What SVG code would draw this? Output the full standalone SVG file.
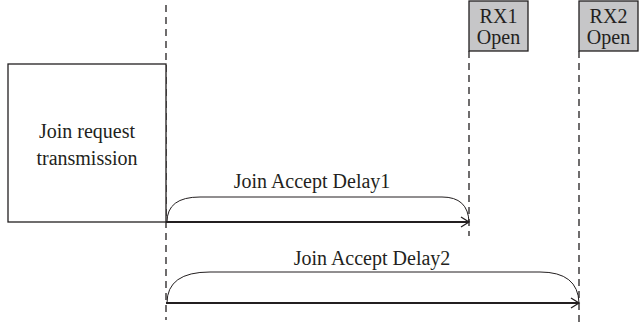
<svg xmlns="http://www.w3.org/2000/svg" width="640" height="322" viewBox="0 0 640 322">
<style>
text{font-family:"Liberation Serif","DejaVu Serif",serif;font-size:20px;fill:#231f20;text-anchor:middle}
.box{fill:#fff;stroke:#231f20;stroke-width:1.3}
.rx{fill:#c6c6c8;stroke:#231f20;stroke-width:1.3}
.dash{stroke:#231f20;stroke-width:1.3;stroke-dasharray:7,5;fill:none}
.arrow{stroke:#231f20;stroke-width:2.2;fill:none;marker-end:url(#ah)}
.brace{stroke:#231f20;stroke-width:1;fill:none}
</style>
<defs>
<marker id="ah" markerWidth="12" markerHeight="12" refX="10" refY="6" orient="auto" markerUnits="userSpaceOnUse">
<path d="M2,1 L10,6 L2,11" fill="none" stroke="#231f20" stroke-width="1.3"/>
</marker>
</defs>
<g id="connectors">
<line class="dash" x1="166" y1="5" x2="166" y2="320"/>
<line class="dash" x1="469" y1="51" x2="469" y2="236"/>
<line class="dash" x1="579" y1="51" x2="579" y2="322"/>
<line class="arrow" x1="166" y1="222" x2="469" y2="222"/>
<line class="arrow" x1="166" y1="303" x2="579" y2="303"/>
<path class="brace" d="M167,222 Q167,197 200,197 L442,197 Q468,197 469,222"/>
<path class="brace" d="M167,303 Q167,272 210,272 L540,272 Q578,272 579,303"/>
<text x="312" y="188">Join Accept Delay1</text>
<text x="372" y="265">Join Accept Delay2</text>
</g>
<g id="join-request">
<rect class="box" x="8" y="64" width="158" height="158"/>
<text x="87" y="138">Join request</text>
<text x="87" y="165">transmission</text>
</g>
<g id="rx1">
<rect class="rx" x="469" y="1" width="59" height="50"/>
<text x="498.5" y="23">RX1</text>
<text x="498.5" y="44">Open</text>
</g>
<g id="rx2">
<rect class="rx" x="579" y="1" width="59" height="50"/>
<text x="608.5" y="23">RX2</text>
<text x="608.5" y="44">Open</text>
</g>
</svg>
